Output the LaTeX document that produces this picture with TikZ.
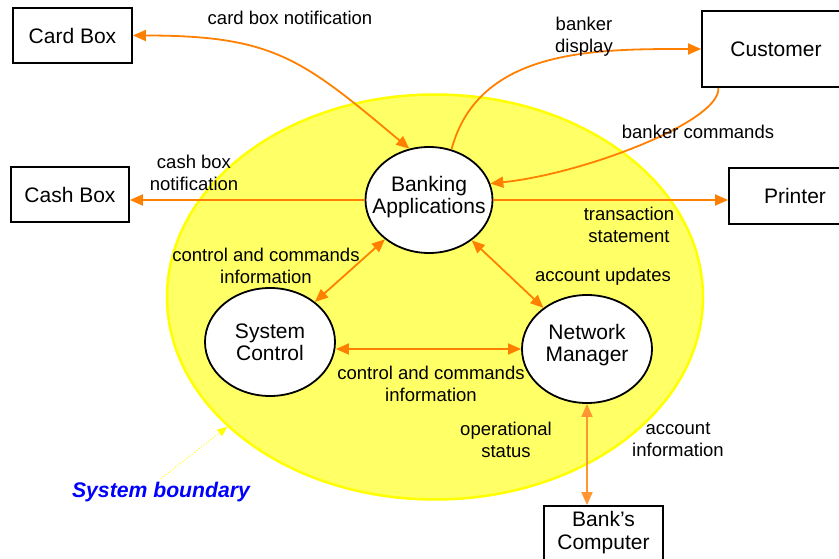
\documentclass[tikz,border=0pt]{standalone}
\usepackage{fontspec}
\setmainfont{Liberation Sans}
\usetikzlibrary{arrows.meta,shapes.geometric}
\definecolor{flow}{RGB}{255,128,0}
\definecolor{flowlight}{RGB}{255,150,50}
\definecolor{zone}{RGB}{255,255,102}
\definecolor{zoneline}{RGB}{255,255,0}
\definecolor{notecol}{RGB}{0,0,255}

\begin{document}
\begin{tikzpicture}[x=1pt,y=-1pt,
  ext/.style={draw,line width=1.8pt,minimum width=119pt,minimum height=55pt,font=\fontsize{21}{23}\selectfont,align=center},
  proc/.style={draw,ellipse,fill=white,line width=1.8pt,inner sep=0pt},
  proctext/.style={font=\fontsize{21}{22}\selectfont,align=center},
  flowline/.style={draw=flow,line width=1.8pt},
  oneway/.style={-{Triangle[length=13pt,width=11pt]}},
  twoway/.style={{Triangle[length=13pt,width=11pt]}-{Triangle[length=13pt,width=11pt]}},
  lbl/.style={font=\fontsize{18.5}{22}\selectfont,align=center}]
\useasboundingbox (0,0) rectangle (839,559);
\node[draw=zoneline,fill=zone,ellipse,line width=2.5pt,minimum width=536pt,minimum height=405pt] (boundary) at (435,297) {};
\node[ext] (cardbox) at (72.5,35.5) {Card Box};
\node[ext,minimum width=118pt] (cashbox) at (70,194.5) {Cash Box};
\node[ext,minimum width=148pt,minimum height=76pt] (customer) at (776,49) {Customer};
\node[ext,minimum width=132pt,minimum height=56pt] (printer) at (795,196) {Printer};
\node[ext,minimum height=54pt] (bankcomp) at (603.5,533) {Bank's\\Computer};
\node[proc,minimum width=127pt,minimum height=106pt,label={[proctext,yshift=3pt]center:{Banking\\Applications}}] (bankapp) at (429,200) {};
\node[proc,minimum width=130pt,minimum height=108pt,label={[proctext]center:{System\\Control}}] (sysctl) at (270,342) {};
\node[proc,minimum width=130pt,minimum height=108pt,label={[proctext,yshift=4pt]center:{Network\\Manager}}] (netmgr) at (587,349) {};
\draw[flowline,twoway] (cardbox.east) to[out=0,in=140,looseness=1.2] (bankapp.111);
\draw[flowline,oneway] (bankapp.west) -- (bankapp.west -| cashbox.east);
\draw[flowline,oneway] (bankapp.66) to[out=75,in=180] (customer.west);
\draw[flowline,oneway] (customer.214) .. controls +(3,33) and +(95,-10) .. (bankapp.15);
\draw[flowline,oneway] (bankapp.east) -- (bankapp.east -| printer.west);
\draw[flowline,twoway] (bankapp) -- (sysctl);
\draw[flowline,twoway] (bankapp) -- (netmgr);
\draw[flowline,twoway] (sysctl.east |- netmgr.west) -- (netmgr.west);
\draw[draw=flowlight,line width=1.8pt,twoway] (netmgr.south) -- (netmgr.south |- bankcomp.north);
\node[lbl] (lcardbox) at (290,18) {card box notification};
\node[lbl] (lcashbox) at (194,173) {cash box\\notification};
\node[lbl] (ldisplay) at (584,37) {banker\\display};
\node[lbl] (lcommands) at (698,132) {banker commands};
\node[lbl] (lstatement) at (629,225) {transaction\\statement};
\node[lbl] (lctlup) at (266,266) {control and commands\\information};
\node[lbl] (lupdates) at (603,277) {account updates};
\node[lbl] (lctllow) at (431,384) {control and commands\\information};
\node[lbl] (lstatus) at (506,440) {operational\\status};
\node[lbl] (laccinfo) at (678,440) {account\\information};
\node[font=\fontsize{21.2}{24}\selectfont\bfseries\itshape,text=notecol] (sblabel) at (161,492) {System boundary};
\draw[zoneline,line width=1pt,dotted,-{Triangle[length=10pt,width=8pt]}] (sblabel.north) -- (boundary.212);
\end{tikzpicture}
\end{document}
